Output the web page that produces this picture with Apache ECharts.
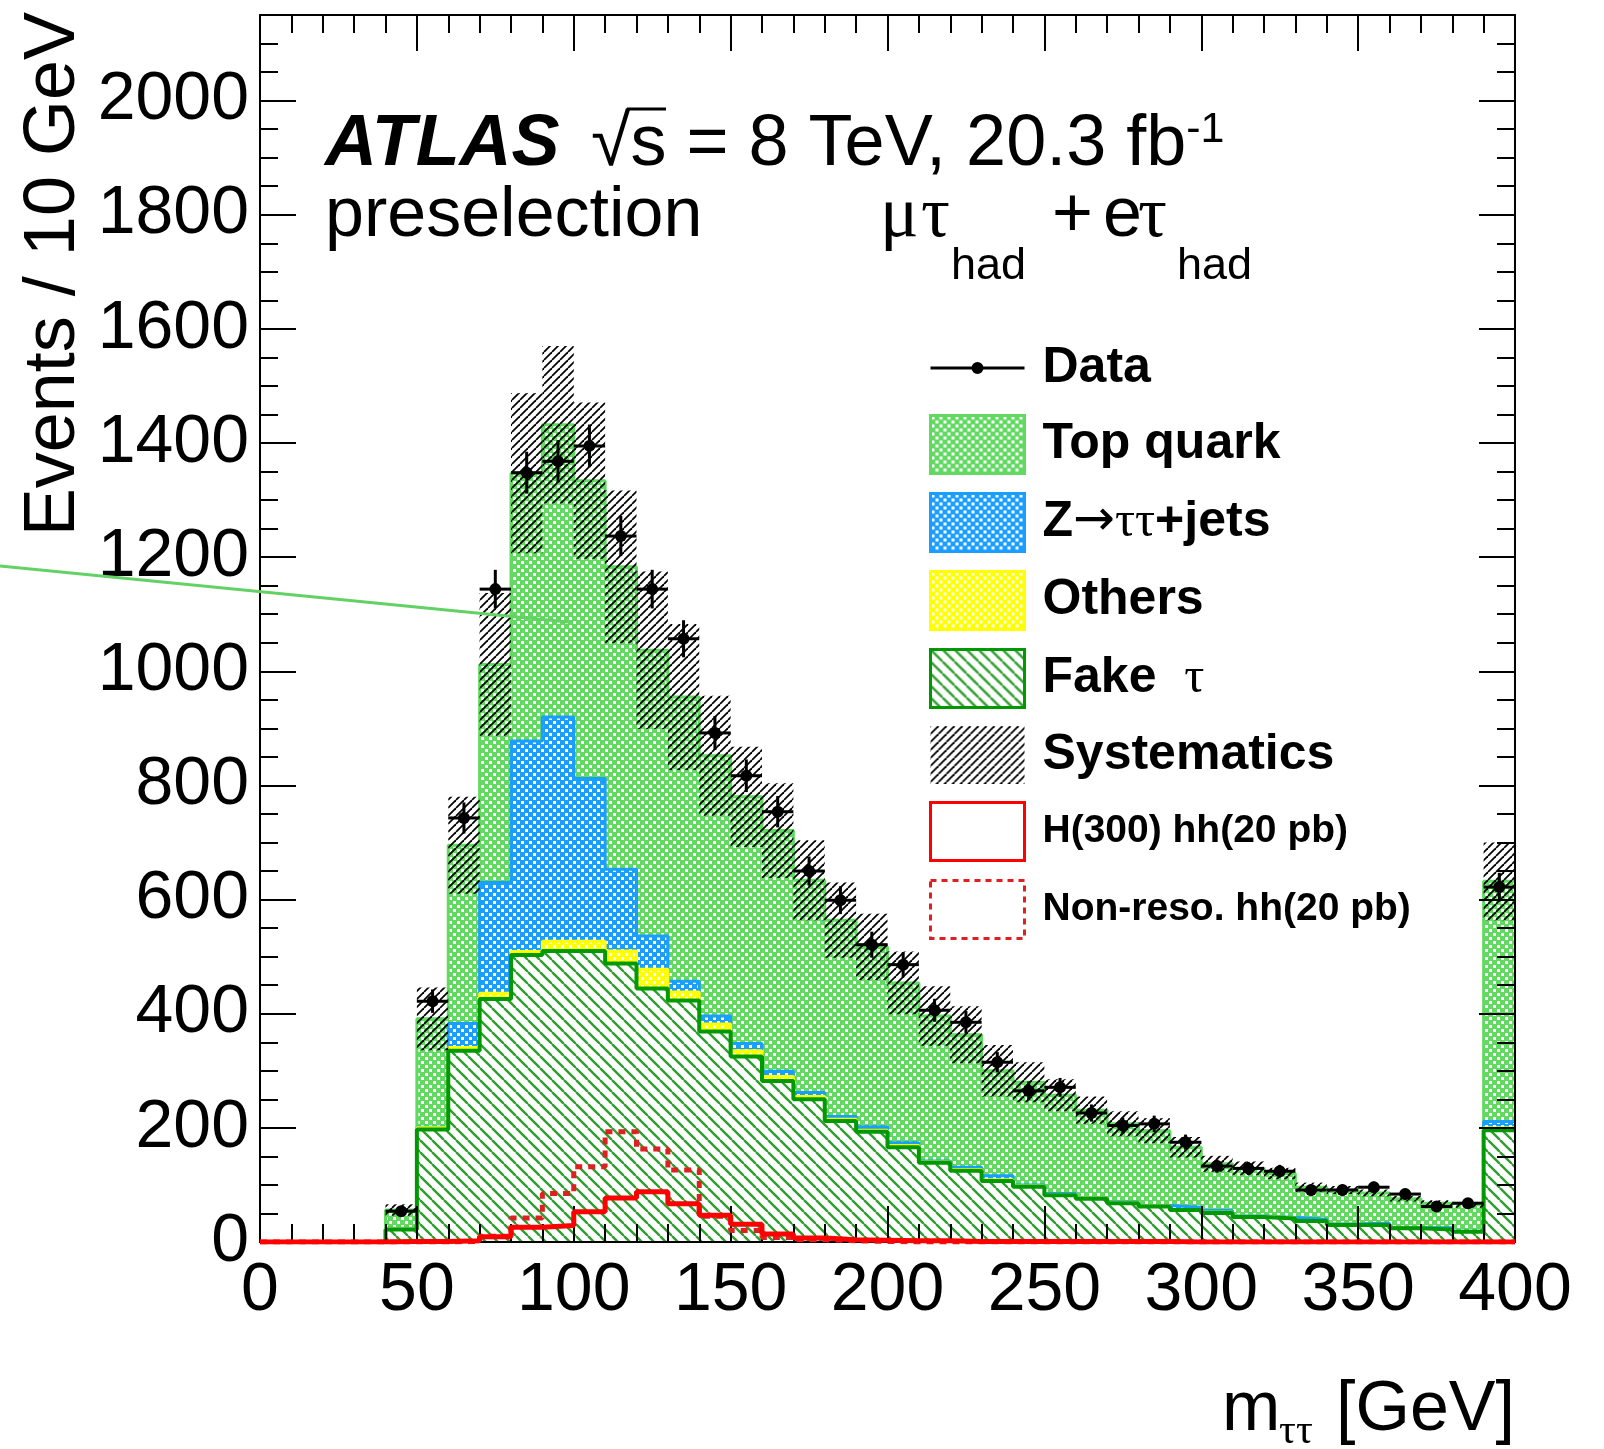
<!DOCTYPE html>
<html><head><meta charset="utf-8">
<script src="https://cdn.jsdelivr.net/npm/echarts@6/dist/echarts.min.js"></script>
<style>html,body{margin:0;padding:0;background:#fff}#chart{width:1604px;height:1449px}</style>
</head><body><div id="chart"></div>
<script>
// ---- data (events / 10 GeV), bins of 10 GeV from 0 to 400, last bin = overflow ----
const binEdges = [0,10,20,30,40,50,60,70,80,90,100,110,120,130,140,150,160,170,180,190,200,210,220,230,240,250,260,270,280,290,300,310,320,330,340,350,360,370,380,390,400];
const fakeTau  = [0,0,0,0,22,197,335,426,503,510,510,488,444,423,369,325,282,250,212,193,166,139,125,107,97,82,76,68,62,56,51,44,41,37,30,30,24,22,18,196];
const others   = [0,0,0,0,1,3,6,10,6,17,17,22,34,15,13,10,8,5,3,3,3,1,2,2,1,1,1,1,1,1,1,1,1,0,1,0,0,0,0,4];
const zTauTau  = [0,0,0,0,1,1,42,194,369,393,285,143,58,19,14,13,9,7,5,6,5,2,4,7,2,2,1,1,1,4,3,1,1,3,1,3,1,3,1,11];
const topQuark = [0,0,0,0,32,190,312,382,469,512,522,530,501,498,456,432,422,372,344,315,280,254,232,184,180,172,153,137,131,105,82,83,77,56,59,53,51,43,46,421];
const dataObs  = [null,null,null,null,54,422,743,1144,1348,1368,1395,1237,1144,1057,892,817,754,650,599,521,486,406,385,315,265,271,226,204,207,175,133,129,124,91,91,96,84,62,68,622];
const sysErr   = [0,0,0,0,10,55,85,125,140,138,137,134,138,128,105,88,83,70,66,58,55,52,50,45,35,28,24,22,22,18,14,12,10,8,7,6,5,5,5,68];
const sigH300  = [0,0,0,0,1,1,2,9,26,29,53,77,88,67,47,31,14,7,4,3,2,2,1,1,1,1,1,1,1,0,0,0,0,0,0,0,0,0,0,0];
const sigNonRes= [0,0,0,0,0,0,1,10,42,85,132,193,163,126,45,20,8,4,2,1,0,0,0,0,0,0,0,0,0,0,0,0,0,0,0,0,0,0,0,0];

// ---- derived tables ----
const nBins = fakeTau.length;
const cumFake = fakeTau.map(v => v);
const cumOthers = cumFake.map((v, i) => v + others[i]);
const cumZ = cumOthers.map((v, i) => v + zTauTau[i]);
const cumTotal = cumZ.map((v, i) => v + topQuark[i]);
function stepData(arr) { return binEdges.map((e, i) => [e, arr[Math.min(i, arr.length - 1)]]); }
const sysData = [];
for (let i = 0; i < nBins; i++) if (sysErr[i] > 0) sysData.push([binEdges[i], binEdges[i + 1], cumTotal[i] - sysErr[i], cumTotal[i] + sysErr[i]]);
const obsData = [];
for (let i = 0; i < nBins; i++) if (dataObs[i] != null) obsData.push([(binEdges[i] + binEdges[i + 1]) / 2, dataObs[i], Math.sqrt(dataObs[i]), (binEdges[i + 1] - binEdges[i]) / 2]);

// ---- fill patterns ----
function makePattern(size, draw) {
  const c = document.createElement('canvas'); c.width = size; c.height = size;
  draw(c.getContext('2d'), size);
  return { image: c, repeat: 'repeat' };
}
function dotPattern(color) {
  return makePattern(8, (ctx, n) => {
    ctx.fillStyle = color; ctx.fillRect(0, 0, n, n);
    ctx.fillStyle = '#ffffff'; ctx.fillRect(1, 1, 3, 3); ctx.fillRect(5, 5, 3, 3);
  });
}
function linePattern(size, color, width, dir, bg) {
  return makePattern(size, (ctx, n) => {
    if (bg) { ctx.fillStyle = bg; ctx.fillRect(0, 0, n, n); }
    ctx.strokeStyle = color; ctx.lineWidth = width;
    for (const k of [-n, 0, n]) {
      ctx.beginPath();
      if (dir === 'back') { ctx.moveTo(k, 0); ctx.lineTo(k + n, n); }
      else { ctx.moveTo(k, n); ctx.lineTo(k + n, 0); }
      ctx.stroke();
    }
  });
}
const topPat = dotPattern('#62da62');
const zPat = dotPattern('#1a9eff');
const othPat = dotPattern('#ffff00');
const fakePat = linePattern(12, '#2e9e2e', 2.4, 'back', '#ffffff');
const sysPat = linePattern(8, '#000000', 1.8, 'fwd', null);

const FONT = 'Liberation Sans';
const SERIF = 'Liberation Serif';
const dataIcon = 'path://M0,0 M94,58 M0,27.5 L94,27.5 L94,30.5 L0,30.5 Z M41,29 A6,6 0 1 1 53,29 A6,6 0 1 1 41,29 Z';

const axisCommon = {
  type: 'value', z: 10,
  axisLine: { show: true, onZero: false, lineStyle: { color: '#000', width: 2 } },
  axisTick: { show: true, inside: true, length: 36, lineStyle: { color: '#000', width: 2 } },
  minorTick: { show: true, length: 18, lineStyle: { color: '#000', width: 2 } },
  splitLine: { show: false }, minorSplitLine: { show: false }
};

const chart = echarts.init(document.getElementById('chart'), null, { renderer: 'canvas' });
chart.setOption({
  animation: false,
  backgroundColor: '#ffffff',
  grid: { left: 260, right: 89, top: 15, bottom: 207, show: false, containLabel: false, outerBoundsMode: 'none' },
  xAxis: [
    Object.assign({}, axisCommon, { position: 'bottom', min: 0, max: 400, interval: 50,
      minorTick: Object.assign({}, axisCommon.minorTick, { splitNumber: 5 }),
      axisLabel: { show: true, fontSize: 68, color: '#000', fontFamily: FONT, margin: 15 } }),
    Object.assign({}, axisCommon, { position: 'top', min: 0, max: 400, interval: 50,
      minorTick: Object.assign({}, axisCommon.minorTick, { splitNumber: 5 }),
      axisLabel: { show: false } })
  ],
  yAxis: [
    Object.assign({}, axisCommon, { position: 'left', min: 0, max: 2150, interval: 200,
      minorTick: Object.assign({}, axisCommon.minorTick, { splitNumber: 4 }),
      axisLabel: { show: true, fontSize: 68, color: '#000', fontFamily: FONT, margin: 11,
        formatter: v => (v % 200 === 0 ? String(v) : '') } }),
    Object.assign({}, axisCommon, { position: 'right', min: 0, max: 2150, interval: 200,
      minorTick: Object.assign({}, axisCommon.minorTick, { splitNumber: 4 }),
      axisLabel: { show: false } })
  ],
  legend: {
    orient: 'vertical', left: 929, top: 339, padding: 0,
    itemWidth: 94, itemHeight: 58, itemGap: 17, selectedMode: false, z: 20,
    textStyle: { fontSize: 50, fontWeight: 'bold', fontFamily: FONT, color: '#000', padding: [0, 0, 0, 13],
      rich: {
        g: { fontSize: 50, fontWeight: 'normal', fontFamily: SERIF, color: '#000' },
        a: { fontSize: 50, fontWeight: 'normal', fontFamily: 'DejaVu Sans', color: '#000' }
      } },
    formatter: name => name === 'Z→ττ+jets' ? 'Z{a|→}{g|ττ}+jets' : (name === 'Fake  τ' ? 'Fake  {g|τ}' : name),
    data: [
      { name: 'Data', icon: dataIcon, itemStyle: { color: '#000', borderWidth: 0 } },
      { name: 'Top quark', icon: 'rect', itemStyle: { color: topPat, borderColor: '#62da62', borderWidth: 3 } },
      { name: 'Z→ττ+jets', icon: 'rect', itemStyle: { color: zPat, borderColor: '#1a9eff', borderWidth: 3 } },
      { name: 'Others', icon: 'rect', itemStyle: { color: othPat, borderColor: '#ffff00', borderWidth: 3 } },
      { name: 'Fake  τ', icon: 'rect', itemStyle: { color: fakePat, borderColor: '#009a00', borderWidth: 3 } },
      { name: 'Systematics', icon: 'rect', itemStyle: { color: sysPat, borderWidth: 0 } },
      { name: 'H(300) hh(20 pb)', icon: 'rect', itemStyle: { color: '#ffffff', borderColor: '#ff0000', borderWidth: 3 }, textStyle: { fontSize: 39 } },
      { name: 'Non-reso. hh(20 pb)', icon: 'rect', itemStyle: { color: '#ffffff', borderColor: '#dd2020', borderWidth: 3, borderType: [6, 5] }, textStyle: { fontSize: 39 } }
    ]
  },
  series: [
    { name: 'Top quark', type: 'line', step: 'end', data: stepData(cumTotal), symbol: 'none', showSymbol: false, z: 2,
      lineStyle: { color: '#62da62', width: 3 }, itemStyle: { color: '#62da62' }, areaStyle: { color: topPat, opacity: 1 } },
    { name: 'Z→ττ+jets', type: 'line', step: 'end', data: stepData(cumZ), symbol: 'none', showSymbol: false, z: 3,
      lineStyle: { color: '#1a9eff', width: 3 }, itemStyle: { color: '#1a9eff' }, areaStyle: { color: zPat, opacity: 1 } },
    { name: 'Others', type: 'line', step: 'end', data: stepData(cumOthers), symbol: 'none', showSymbol: false, z: 4,
      lineStyle: { color: '#ffff00', width: 3 }, itemStyle: { color: '#ffff00' }, areaStyle: { color: othPat, opacity: 1 } },
    { name: 'Fake  τ', type: 'line', step: 'end', data: stepData(cumFake), symbol: 'none', showSymbol: false, z: 5,
      lineStyle: { color: '#009a00', width: 4 }, itemStyle: { color: '#009a00' }, areaStyle: { color: fakePat, opacity: 1 } },
    { name: 'Systematics', type: 'custom', z: 6, data: sysData, encode: { x: [0, 1], y: [2, 3] },
      itemStyle: { color: '#000' },
      renderItem: function (params, api) {
        const p0 = api.coord([api.value(0), api.value(3)]);
        const p1 = api.coord([api.value(1), api.value(2)]);
        return { type: 'rect', shape: { x: p0[0], y: p0[1], width: p1[0] - p0[0], height: p1[1] - p0[1] }, style: { fill: sysPat } };
      } },
    { name: 'Non-reso. hh(20 pb)', type: 'line', step: 'end', data: stepData(sigNonRes), symbol: 'none', showSymbol: false, z: 11,
      lineStyle: { color: '#dd2020', width: 5, type: [7, 6] }, itemStyle: { color: '#dd2020' } },
    { name: 'H(300) hh(20 pb)', type: 'line', step: 'end', data: stepData(sigH300), symbol: 'none', showSymbol: false, z: 12,
      lineStyle: { color: '#ff0000', width: 5 }, itemStyle: { color: '#ff0000' } },
    { name: 'Data', type: 'custom', z: 13, data: obsData, encode: { x: 0, y: 1 }, itemStyle: { color: '#000' },
      renderItem: function (params, api) {
        const x = api.value(0), y = api.value(1), e = api.value(2), hw = api.value(3);
        const c = api.coord([x, y]);
        const l = api.coord([x - hw, y]), r = api.coord([x + hw, y]);
        const t = api.coord([x, y + e]), b = api.coord([x, y - e]);
        return { type: 'group', children: [
          { type: 'line', shape: { x1: l[0], y1: c[1], x2: r[0], y2: c[1] }, style: { stroke: '#000', lineWidth: 3 } },
          { type: 'line', shape: { x1: c[0], y1: t[1], x2: c[0], y2: b[1] }, style: { stroke: '#000', lineWidth: 3 } },
          { type: 'circle', shape: { cx: c[0], cy: c[1], r: 6 }, style: { fill: '#000' } }
        ] };
      } }
  ],
  graphic: [
    { type: 'text', x: 325, y: 145, z: 20, style: { text: 'ATLAS', fontSize: 72, fontWeight: 'bold', fontStyle: 'italic', fontFamily: FONT, fill: '#000', align: 'left', verticalAlign: 'middle' } },
    { type: 'text', x: 591, y: 145, z: 20, style: { text: '{n|√s = 8 TeV, 20.3 fb}{p|-1}', align: 'left', verticalAlign: 'middle',
        rich: { n: { fontSize: 72, fontFamily: FONT, fill: '#000' }, p: { fontSize: 43, fontFamily: FONT, fill: '#000', verticalAlign: 'top' } } } },
    { type: 'line', z: 20, shape: { x1: 627, y1: 109, x2: 666, y2: 109 }, style: { stroke: '#000', lineWidth: 3 } },
    { type: 'text', x: 325, y: 217, z: 20, style: { text: 'preselection', fontSize: 70, fontFamily: FONT, fill: '#000', align: 'left', verticalAlign: 'middle' } },
    { type: 'text', x: 880, y: 217, z: 20, style: { text: 'μ', fontSize: 72, fontFamily: SERIF, fill: '#000', align: 'left', verticalAlign: 'middle' } },
    { type: 'text', x: 921, y: 217, z: 20, style: { text: 'τ', fontSize: 72, fontFamily: SERIF, fill: '#000', align: 'left', verticalAlign: 'middle' } },
    { type: 'text', x: 951, y: 267, z: 20, style: { text: 'had', fontSize: 45, fontFamily: FONT, fill: '#000', align: 'left', verticalAlign: 'middle' } },
    { type: 'text', x: 1052, y: 217, z: 20, style: { text: '+', fontSize: 70, fontFamily: FONT, fill: '#000', align: 'left', verticalAlign: 'middle' } },
    { type: 'text', x: 1103, y: 217, z: 20, style: { text: 'e', fontSize: 70, fontFamily: FONT, fill: '#000', align: 'left', verticalAlign: 'middle' } },
    { type: 'text', x: 1138, y: 217, z: 20, style: { text: 'τ', fontSize: 72, fontFamily: SERIF, fill: '#000', align: 'left', verticalAlign: 'middle' } },
    { type: 'text', x: 1177, y: 267, z: 20, style: { text: 'had', fontSize: 45, fontFamily: FONT, fill: '#000', align: 'left', verticalAlign: 'middle' } },
    { type: 'text', x: 1222, y: 1411, z: 20, style: { text: 'm', fontSize: 70, fontFamily: FONT, fill: '#000', align: 'left', verticalAlign: 'middle' } },
    { type: 'text', x: 1279, y: 1432, z: 20, style: { text: 'ττ', fontSize: 42, fontFamily: SERIF, fill: '#000', align: 'left', verticalAlign: 'middle' } },
    { type: 'text', x: 1515, y: 1411, z: 20, style: { text: '[GeV]', fontSize: 70, fontFamily: FONT, fill: '#000', align: 'right', verticalAlign: 'middle' } },
    { type: 'text', x: 54, y: 12, rotation: Math.PI / 2, z: 20, style: { text: 'Events / 10 GeV', fontSize: 72, fontFamily: FONT, fill: '#000', align: 'right', verticalAlign: 'middle' } },
    { type: 'line', z: 30, shape: { x1: 0, y1: 566, x2: 568, y2: 622 }, style: { stroke: '#63d163', lineWidth: 3 } }
  ]
});
</script>
</body></html>
